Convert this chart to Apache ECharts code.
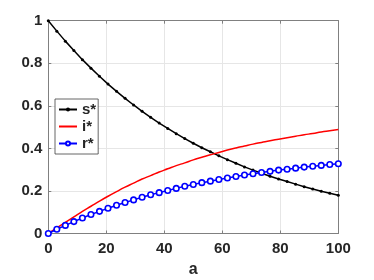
<!DOCTYPE html>
<html>
<head>
<meta charset="utf-8">
<script src="https://cdn.jsdelivr.net/npm/echarts@6/dist/echarts.min.js"></script>
<style>
html,body{margin:0;padding:0;background:#fff;}
#c{width:374px;height:280px;}
</style>
</head>
<body>
<div id="c"></div>
<script>
var aValues = [0, 2.94, 5.88, 8.82, 11.76, 14.71, 17.65, 20.59, 23.53, 26.47, 29.41, 32.35, 35.29, 38.24, 41.18, 44.12, 47.06, 50, 52.94, 55.88, 58.82, 61.76, 64.71, 67.65, 70.59, 73.53, 76.47, 79.41, 82.35, 85.29, 88.24, 91.18, 94.12, 97.06, 100];
var sStar = [1.000, 0.951, 0.904, 0.860, 0.817, 0.777, 0.739, 0.702, 0.668, 0.635, 0.604, 0.574, 0.546, 0.519, 0.494, 0.469, 0.446, 0.424, 0.403, 0.384, 0.365, 0.347, 0.330, 0.313, 0.298, 0.283, 0.269, 0.256, 0.244, 0.232, 0.220, 0.209, 0.199, 0.189, 0.180];
var iStar = [0, 0.026, 0.052, 0.078, 0.104, 0.128, 0.152, 0.175, 0.197, 0.218, 0.237, 0.256, 0.272, 0.289, 0.304, 0.319, 0.332, 0.346, 0.358, 0.370, 0.381, 0.392, 0.402, 0.411, 0.420, 0.428, 0.436, 0.443, 0.450, 0.457, 0.464, 0.470, 0.477, 0.483, 0.489];
var rStar = [0, 0.020, 0.038, 0.056, 0.073, 0.089, 0.104, 0.119, 0.133, 0.146, 0.158, 0.170, 0.182, 0.192, 0.202, 0.212, 0.222, 0.230, 0.239, 0.246, 0.254, 0.261, 0.268, 0.275, 0.281, 0.287, 0.292, 0.298, 0.302, 0.307, 0.312, 0.316, 0.320, 0.324, 0.328];
var seriesNames = ['s*', 'i*', 'r*'];
var xAxisName = 'a';

function pairs(ys){ return aValues.map(function(a, k){ return [a, ys[k]]; }); }

var font = '"Liberation Sans", Arial, Helvetica, sans-serif';
var axisColor = '#808080';
var textColor = '#262626';

var chart = echarts.init(document.getElementById('c'), null, {renderer:'canvas'});
chart.setOption({
  animation:false,
  backgroundColor:'#fff',
  grid:{left:48.3, right:35.7, top:20.7, bottom:46.5, containLabel:false, outerBoundsMode:'none'},
  legend:{
    orient:'vertical', left:55, top:99,
    data:[
      {name:seriesNames[0]},
      {name:seriesNames[1], itemStyle:{opacity:0}},
      {name:seriesNames[2]}
    ],
    backgroundColor:'#fff', borderColor:'#404040', borderWidth:0.8,
    padding:[3,2,3,3], itemGap:2, itemWidth:18, itemHeight:5,
    textStyle:{fontFamily:font, fontWeight:'bold', fontSize:15, color:textColor}
  },
  xAxis:[{
    type:'value', min:0, max:100, interval:20, position:'bottom',
    name:xAxisName, nameLocation:'middle', nameGap:28,
    nameTextStyle:{fontFamily:font, fontWeight:'bold', fontSize:16, color:textColor},
    axisLine:{show:true, onZero:false, lineStyle:{color:axisColor, width:1}},
    axisTick:{show:true, inside:true, length:3, lineStyle:{color:axisColor}},
    axisLabel:{fontFamily:font, fontWeight:'bold', fontSize:15, color:textColor, margin:8},
    splitLine:{show:true, lineStyle:{color:'#e6e6e6', width:1}}
  },{
    type:'value', min:0, max:100, interval:20, position:'top',
    axisLine:{show:true, onZero:false, lineStyle:{color:axisColor, width:1}},
    axisTick:{show:true, inside:true, length:3, lineStyle:{color:axisColor}},
    axisLabel:{show:false}, splitLine:{show:false}
  }],
  yAxis:[{
    type:'value', min:0, max:1, interval:0.2, position:'left',
    axisLine:{show:true, onZero:false, lineStyle:{color:axisColor, width:1}},
    axisTick:{show:true, inside:true, length:3, lineStyle:{color:axisColor}},
    axisLabel:{fontFamily:font, fontWeight:'bold', fontSize:15, color:textColor, margin:6},
    splitLine:{show:true, lineStyle:{color:'#e6e6e6', width:1}}
  },{
    type:'value', min:0, max:1, interval:0.2, position:'right',
    axisLine:{show:true, onZero:false, lineStyle:{color:axisColor, width:1}},
    axisTick:{show:true, inside:true, length:3, lineStyle:{color:axisColor}},
    axisLabel:{show:false}, splitLine:{show:false}
  }],
  series:[{
    name:seriesNames[0], type:'line', data:pairs(sStar),
    symbol:'circle', symbolSize:3, showAllSymbol:true,
    lineStyle:{color:'#000', width:1.5}, itemStyle:{color:'#000'}
  },{
    name:seriesNames[1], type:'line', data:pairs(iStar), smooth:true,
    symbol:'none', showSymbol:false,
    lineStyle:{color:'#ff0000', width:1.5}, itemStyle:{color:'#ff0000'}
  },{
    name:seriesNames[2], type:'line', data:pairs(rStar),
    symbol:'circle', symbolSize:5.5, showAllSymbol:true,
    lineStyle:{color:'#0000ff', width:1.5},
    itemStyle:{color:'#ffffff', borderColor:'#0000ff', borderWidth:1.6}
  }]
});
</script>
</body>
</html>
